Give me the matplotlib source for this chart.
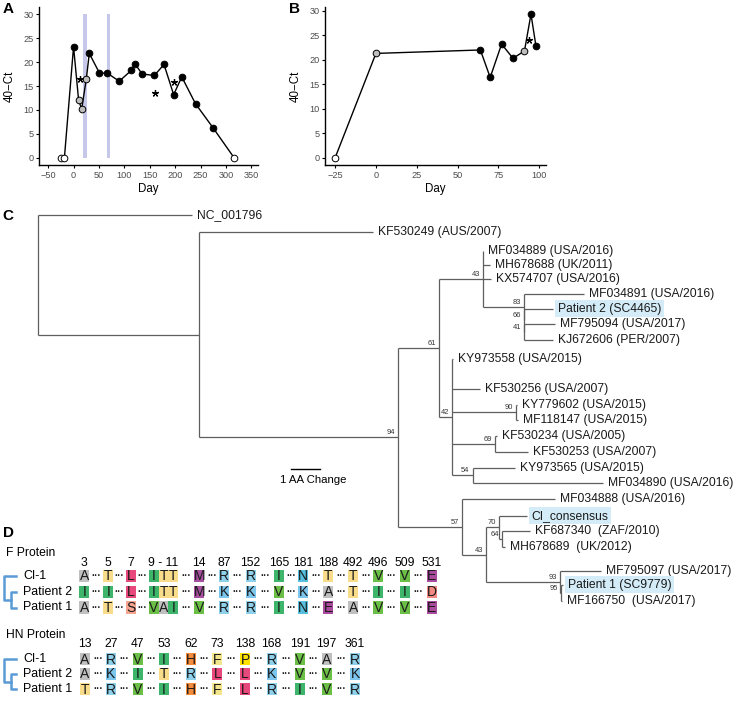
import matplotlib
matplotlib.use("Agg")
import matplotlib.pyplot as plt
from matplotlib.patches import Rectangle

plt.rcParams['font.family'] = ['Liberation Sans', 'DejaVu Sans']

# ---- panel A: 40-Ct over time, patient 1
a_day = [-24, -18, 0, 10, 16, 25, 31, 51, 66, 90, 114, 121, 135, 159, 178, 197, 213, 240, 275, 316]
a_ct = [0, 0, 23.2, 12.0, 10.2, 16.4, 21.8, 17.7, 17.7, 16.0, 18.3, 19.6, 17.5, 17.2, 19.5, 13.2, 16.9, 11.3, 6.2, 0]
a_kind = ['neg', 'neg', 'pos', 'weak', 'weak', 'weak', 'pos', 'pos', 'pos', 'pos', 'pos', 'pos',
          'pos', 'pos', 'pos', 'pos', 'pos', 'pos', 'pos', 'neg']
a_star_day = [12, 160, 198]
a_star_ct = [16.4, 13.5, 15.8]
a_treat = [(18, 25.5), (66.5, 72.5)]

# ---- panel B: 40-Ct over time, patient 2
b_day = [-25, 0, 64, 70, 77, 84, 91, 95, 98]
b_ct = [0, 21.3, 22.0, 16.4, 23.2, 20.3, 21.8, 29.3, 22.9]
b_kind = ['neg', 'weak', 'pos', 'pos', 'pos', 'pos', 'weak', 'pos', 'pos']
b_star_day = [94]
b_star_ct = [24.0]

# ---- panel C: tree, branch lengths in AA changes; leaf = (label, length), node = (support, length, children)
tree = ('', 0, [
    ('NC_001796', 5.26),
    ('', 5.49, [
        ('KF530249 (AUS/2007)', 5.93),
        ('94', 6.79, [
            ('61', 1.41, [
                ('43', 1.50, [
                    ('MF034889 (USA/2016)', 0.0),
                    ('MH678688 (UK/2011)', 0.25),
                    ('KX574707 (USA/2016)', 0.26),
                    ('83', 1.40, [
                        ('MF034891 (USA/2016)', 2.05),
                        ('66', 0.0, [
                            ('Patient 2 (SC4465)', 0.98),
                            ('41', 0.0, [
                                ('MF795094 (USA/2017)', 1.05),
                                ('KJ672606 (PER/2007)', 1.00)])])])]),
                ('42', 0.43, [
                    ('KY973558 (USA/2015)', 0.06),
                    ('KF530256 (USA/2007)', 0.97),
                    ('90', 2.18, [('KY779602 (USA/2015)', 0.06), ('MF118147 (USA/2015)', 0.08)]),
                    ('69', 1.48, [('KF530234 (USA/2005)', 0.08), ('KF530253 (USA/2007)', 1.13)]),
                    ('54', 0.71, [('KY973565 (USA/2015)', 1.44), ('MF034890 (USA/2016)', 4.47)])])]),
            ('57', 2.18, [
                ('MF034888 (USA/2016)', 3.18),
                ('43', 0.84, [
                    ('70', 0.43, [
                        ('CI_consensus', 0.95),
                        ('64', 0.12, [('KF687340  (ZAF/2010)', 0.94), ('MH678689  (UK/2012)', 0.09)])]),
                    ('93', 2.50, [
                        ('MF795097 (USA/2017)', 1.40),
                        ('95', 0.04, [('Patient 1 (SC9779)', 0.08), ('MF166750  (USA/2017)', 0.06)])])])])])])])
tip_rows = [0, 1.1, 2.3, 3.2, 4.1, 5.1, 6.05, 7.05, 8.05, 9.3, 11.2, 12.25, 13.2, 14.25, 15.3,
            16.3, 17.3, 18.3, 19.4, 20.4, 21.4, 22.95, 23.85, 24.9]
highlight = ['Patient 2 (SC4465)', 'CI_consensus', 'Patient 1 (SC9779)']

# ---- panel D: residues
row_names = ['CI-1', 'Patient 2', 'Patient 1']
f_sites = ['3', '5', '7', '9 - 11', '14', '87', '152', '165', '181', '188', '492', '496', '509', '531']
f_ci1 = ['A', 'T', 'L', 'ITT', 'M', 'R', 'R', 'I', 'N', 'T', 'T', 'V', 'V', 'E']
f_pat2 = ['I', 'I', 'L', 'ITT', 'M', 'K', 'K', 'V', 'K', 'A', 'T', 'I', 'I', 'D']
f_pat1 = ['A', 'T', 'S', 'VAI', 'V', 'R', 'R', 'I', 'N', 'E', 'A', 'V', 'V', 'E']
hn_sites = ['13', '27', '47', '53', '62', '73', '138', '168', '191', '197', '361']
hn_ci1 = ['A', 'R', 'V', 'I', 'H', 'F', 'P', 'R', 'V', 'A', 'R']
hn_pat2 = ['A', 'K', 'I', 'T', 'R', 'L', 'L', 'K', 'V', 'V', 'K']
hn_pat1 = ['T', 'R', 'V', 'I', 'H', 'F', 'L', 'R', 'I', 'V', 'R']

aa_color = {'A': '#c0c0c0', 'T': '#f8dc8a', 'L': '#e8497d', 'S': '#f6a690', 'I': '#3db56b',
            'V': '#6cbf46', 'M': '#a64f9e', 'R': '#8fd0ea', 'K': '#7cc5ec', 'N': '#55bfdd',
            'E': '#aa4a9c', 'D': '#f28a82', 'H': '#f58c3c', 'F': '#f3e58c', 'P': '#ffe100'}

fig = plt.figure(figsize=(7.52, 7.01), dpi=100)
W, H = 752, 701


def ct_panel(rect, day, ct, kind, star_day, star_ct, xticks, xlim, ylim):
    ax = fig.add_axes([rect[0] / W, 1 - rect[3] / H, (rect[2] - rect[0]) / W, (rect[3] - rect[1]) / H])
    ax.plot(day, ct, color='black', lw=1.0, zorder=2)
    face = {'neg': 'white', 'weak': '#bdbdbd', 'pos': 'black'}
    for d, c, k in zip(day, ct, kind):
        ax.plot(d, c, 'o', ms=4.8, mfc=face[k], mec='black', mew=0.7, zorder=3)
    ax.plot(star_day, star_ct, ls='none', marker=(5, 2, 0), ms=5, mew=0.9, color='black', zorder=3)
    ax.set_xlim(*xlim)
    ax.set_ylim(*ylim)
    ax.set_xticks(xticks)
    ax.set_yticks(range(0, 31, 5))
    for s in ['top', 'right']:
        ax.spines[s].set_visible(False)
    for s in ['left', 'bottom']:
        ax.spines[s].set_linewidth(1.0)
    ax.tick_params(length=2.5, width=0.8, labelsize=6.6, labelcolor='#4d4d4d', pad=1.5)
    ax.set_xlabel('Day', fontsize=8.3)
    ax.set_ylabel('40\u2212Ct', fontsize=8.3)
    ax.xaxis.set_label_coords(0.5, -0.115)
    ax.yaxis.set_label_coords(-0.105, 0.5)
    return ax


ax_a = ct_panel((39, 7, 258, 165), a_day, a_ct, a_kind, a_star_day, a_star_ct,
                range(-50, 351, 50), (-68, 363), (-1.5, 31.5))
for lo, hi in a_treat:
    ax_a.fill_between([lo, hi], 0, 30, color='#c6c8ea', lw=0, zorder=0)

ct_panel((325, 7, 546, 165), b_day, b_ct, b_kind, b_star_day, b_star_ct,
         range(-25, 101, 25), (-31.2, 104.2), (-1.47, 30.77))

# ---- tree
ax_t = fig.add_axes([0, 0, 1, 1])
ax_t.set_xlim(-38 / 29.3, (W - 38) / 29.3)
ax_t.set_ylim((H - 215) / 15.5, -215 / 15.5)
ax_t.axis('off')
ax_t.patch.set_alpha(0)
rows = iter(tip_rows)
lc = '#5e5e5e'


def draw(node, xp):
    x = xp + node[1]
    if len(node) == 2:
        y = next(rows)
        kw = {}
        if node[0] in highlight:
            kw['bbox'] = dict(boxstyle='square,pad=0.22', fc='#d4ecf7', ec='none')
        ax_t.text(x + 0.17, y, node[0], fontsize=8.7, va='center', ha='left', color='#1a1a1a', **kw)
    else:
        ys = [draw(ch, x) for ch in node[2]]
        y = (ys[0] + ys[-1]) / 2
        ax_t.plot([x, x], [ys[0], ys[-1]], color=lc, lw=0.9, solid_capstyle='butt')
        if node[0]:
            ax_t.text(x - 0.1, y - 0.06, node[0], fontsize=5.4, ha='right', va='bottom', color='#333333')
    ax_t.plot([xp, x], [y, y], color=lc, lw=0.9, solid_capstyle='butt')
    return y


draw(tree, 0)
ax_t.plot([8.62, 9.62], [16.4, 16.4], color='black', lw=1.0)
ax_t.text(9.4, 17.1, '1 AA Change', fontsize=8.2, ha='center', va='center')

# ---- panel D and panel letters (pixel coordinates)
ax_d = fig.add_axes([0, 0, 1, 1])
ax_d.set_xlim(0, W)
ax_d.set_ylim(H, 0)
ax_d.axis('off')
ax_d.patch.set_alpha(0)

for lab, x, y in [('A', 7.7, 9.2), ('B', 294.3, 9.2), ('C', 8, 216), ('D', 8, 533)]:
    ax_d.text(x, y, lab, fontsize=11, fontweight='bold', ha='center', va='center')

bw, bh = 9.8, 12.5


def residues(title, ty, sites, seqs, cols, ny, rys):
    ax_d.text(6, ty, title, fontsize=8.7, ha='left', va='center')
    for s, cx in zip(sites, cols):
        ax_d.text(cx, ny, s, fontsize=8.7, ha='center', va='center')
    for name, seq, ry in zip(row_names, seqs, rys):
        ax_d.text(23.3, ry, name, fontsize=8.9, ha='left', va='center')
        prev_right = None
        for res, cx in zip(seq, cols):
            left = cx - len(res) * bw / 2
            if prev_right is not None:
                ax_d.text((prev_right + left) / 2, ry, '\u00b7\u00b7\u00b7', fontsize=7,
                          ha='center', va='center', color='#222222', fontweight='bold')
            for k, ch in enumerate(res):
                x0 = left + k * bw
                ax_d.add_patch(Rectangle((x0, ry - bh / 2), bw, bh, fc=aa_color[ch], ec='none'))
                ax_d.text(x0 + bw / 2, ry + 0.5, ch, fontsize=10, ha='center', va='center', color='#1a1a1a')
            prev_right = left + len(res) * bw
    # dendrogram bracket
    bc = '#5b9bd5'
    mid = (rys[1] + rys[2]) / 2
    ax_d.plot([16, 4, 4, 11], [rys[0], rys[0], mid, mid], color=bc, lw=1.8)
    ax_d.plot([16, 11, 11, 16], [rys[1], rys[1], rys[2], rys[2]], color=bc, lw=1.8)


f_cols = [84.3, 108.3, 131, 163.5, 199.3, 224.3, 250.7, 279, 303.3, 328.3, 353.3, 378.3, 405, 431.7]
hn_cols = [85, 110.7, 137.7, 164, 191, 217.3, 245, 271.7, 300, 326.7, 355]
residues('F Protein', 553, f_sites, [f_ci1, f_pat2, f_pat1], f_cols, 562.5, [576, 592, 607.5])
residues('HN Protein', 635, hn_sites, [hn_ci1, hn_pat2, hn_pat1], hn_cols, 644, [659, 674, 689])

fig.savefig('out.png', dpi=100)
